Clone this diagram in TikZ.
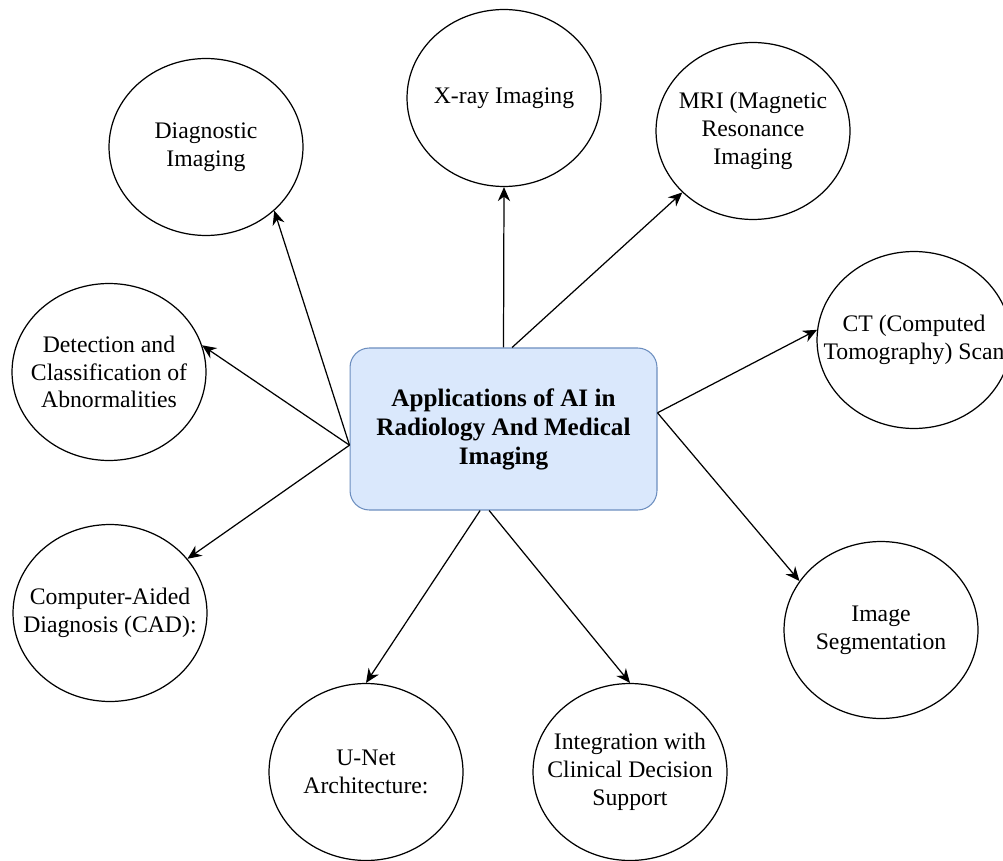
\documentclass[tikz,border=0pt]{standalone}
\usepackage{fontspec}
\setmainfont{Liberation Serif}
\usetikzlibrary{shapes.geometric, arrows.meta}

\definecolor{hubfill}{HTML}{DAE8FC}
\definecolor{hubline}{HTML}{6C8EBF}

\begin{document}
\begin{tikzpicture}
  [x = 0.02cm, y = -0.02cm,
   topic/.style = {draw, ellipse, line width = .7pt, inner sep = 0pt,
     minimum width = 3.88cm, minimum height = 3.54cm},
   topictext/.style = {align = center, inner sep = 0pt,
     font = \fontsize{13.5}{15.8}\selectfont},
   hub/.style = {draw = hubline, fill = hubfill, rounded corners = 11pt,
     line width = .6pt, minimum width = 6.14cm, minimum height = 3.24cm,
     align = center, font = \fontsize{14.3}{16.5}\selectfont\bfseries},
   link/.style = {line width = .7pt, -{Stealth[length = 8pt, width = 7pt]}}]
  \useasboundingbox (0,0) rectangle (1003,861);
  \node[hub] (hub) at (503.5,429) {Applications of AI in\\Radiology And Medical\\Imaging};
  \foreach \name/\x/\y/\txt in {
      diag/206/147/{Diagnostic\\Imaging},
      xray/504/98/{X-ray Imaging},
      mri/753/131/{MRI (Magnetic\\Resonance\\Imaging},
      ct/914/340/{CT (Computed\\Tomography) Scan},
      det/109/372/{Detection and\\Classification of\\Abnormalities},
      cad/110/613/{Computer-Aided\\Diagnosis (CAD):},
      seg/881/630/{Image\\Segmentation},
      unet/366/772/{U-Net\\Architecture:},
      integ/630/772/{Integration with\\Clinical Decision\\Support}}{
    \node[topic, label = {[topictext]center:\txt}] (\name) at (\x,\y) {};
  }
  \foreach \from/\to in {hub.186/diag.-43, hub.north/xray.south, hub.84/mri.221,
      hub.6/ct.174, hub.186/det.16, hub.186/cad.35, hub.6/seg.149,
      hub.-106/unet.north, hub.-100/integ.north}{
    \draw[link] (\from) -- (\to);
  }
\end{tikzpicture}
\end{document}
